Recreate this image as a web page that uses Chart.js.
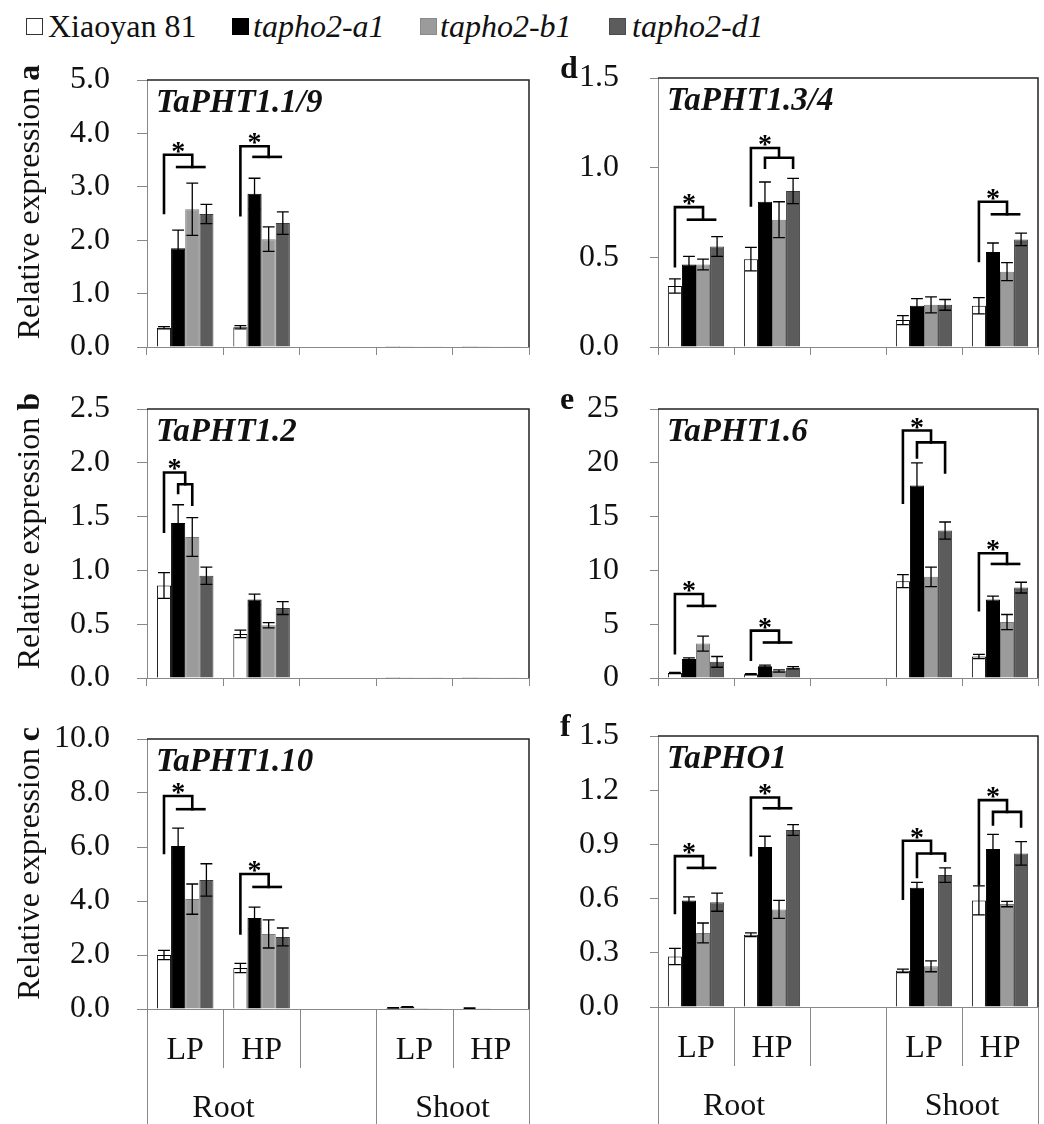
<!DOCTYPE html>
<html>
<head>
<meta charset="utf-8">
<script src="https://cdn.jsdelivr.net/npm/chart.js@4.4.1/dist/chart.umd.min.js"></script>
<style>
  body { margin: 0; background: #fff; width: 1044px; height: 1124px; position: relative; overflow: hidden; font-family: "Liberation Serif", "Times New Roman", Tinos, serif; }
  canvas { position: absolute; }
  .sq { position: absolute; top: 18px; width: 15px; height: 15px; border: 1px solid #333; }
  .lt { position: absolute; top: 10px; font-size: 32px; line-height: 32px; color: #111; white-space: nowrap; }
  .lt i { font-style: italic; }
</style>
</head>
<body>
<div class="sq" style="left:26px;background:#fff"></div>
<div class="lt" style="left:48px">Xiaoyan 81</div>
<div class="sq" style="left:232px;background:#000;border-color:#000"></div>
<div class="lt" style="left:253px"><i>tapho2-a1</i></div>
<div class="sq" style="left:420px;background:#9b9b9b;border-color:#8a8a8a"></div>
<div class="lt" style="left:440px"><i>tapho2-b1</i></div>
<div class="sq" style="left:609px;background:#5c5c5c;border-color:#4a4a4a"></div>
<div class="lt" style="left:632px"><i>tapho2-d1</i></div>

<canvas id="pa" width="535" height="320" style="left:0;top:50px"></canvas>
<canvas id="pd" width="509" height="320" style="left:535px;top:50px"></canvas>
<canvas id="pb" width="535" height="320" style="left:0;top:380px"></canvas>
<canvas id="pe" width="509" height="320" style="left:535px;top:380px"></canvas>
<canvas id="pc" width="535" height="414" style="left:0;top:710px"></canvas>
<canvas id="pf" width="509" height="414" style="left:535px;top:710px"></canvas>

<script>
const categories = ["LP", "HP", "", "LP", "HP"];
const tissues = ["Root", "Shoot"];
const tissueCats = [[0, 1], [3, 4]];
const genotypes = ["Xiaoyan 81", "tapho2-a1", "tapho2-b1", "tapho2-d1"];

// rows: genotypes, columns: categories
// significance: [category, left leg bottom, bracket top, sub level, sub from, sub to, sub leg L, sub leg R]

// a  TaPHT1.1/9
const ticksA = ["0.0", "1.0", "2.0", "3.0", "4.0", "5.0"];
const meanA = [
  [0.36, 0.37, null, 0.02, 0.02],
  [1.85, 2.87, null, 0.003, 0.003],
  [2.58, 2.02, null, 0.003, 0.003],
  [2.49, 2.32, null, 0.003, 0.003]
];
const errA = [
  [0.02, 0.03, null, 0, 0],
  [0.34, 0.29, null, 0, 0],
  [0.49, 0.23, null, 0, 0],
  [0.18, 0.21, null, 0, 0]
];
const sigA = [
  [0, 2.51, 3.60, 3.37, 1, 3, null, null],
  [1, 2.47, 3.76, 3.56, 1, 3, null, null]
];

// b  TaPHT1.2
const ticksB = ["0.0", "0.5", "1.0", "1.5", "2.0", "2.5"];
const meanB = [
  [0.86, 0.41, null, 0.01, 0.01],
  [1.44, 0.73, null, 0.003, 0.003],
  [1.31, 0.49, null, 0.003, 0.003],
  [0.95, 0.65, null, 0.003, 0.003]
];
const errB = [
  [0.12, 0.035, null, 0, 0],
  [0.17, 0.05, null, 0, 0],
  [0.18, 0.025, null, 0, 0],
  [0.08, 0.06, null, 0, 0]
];
const sigB = [
  [0, 1.36, 1.91, 1.80, 1, 2, 1.72, 1.61]
];

// c  TaPHT1.10
const ticksC = ["0.0", "2.0", "4.0", "6.0", "8.0", "10.0"];
const meanC = [
  [2.0, 1.52, null, 0.04, 0.03],
  [6.04, 3.37, null, 0.08, 0.03],
  [4.07, 2.78, null, 0.04, 0.02],
  [4.78, 2.67, null, 0.03, 0.02]
];
const errC = [
  [0.17, 0.17, null, 0.01, 0.01],
  [0.66, 0.40, null, 0.01, 0],
  [0.56, 0.52, null, 0, 0],
  [0.60, 0.33, null, 0, 0]
];
const sigC = [
  [0, 5.78, 7.89, 7.40, 1, 3, null, null],
  [1, 2.80, 5.00, 4.52, 1, 3, null, null]
];

// d  TaPHT1.3/4
const ticksD = ["0.0", "0.5", "1.0", "1.5"];
const meanD = [
  [0.34, 0.49, null, 0.15, 0.23],
  [0.46, 0.81, null, 0.23, 0.53],
  [0.46, 0.71, null, 0.235, 0.42],
  [0.56, 0.87, null, 0.235, 0.60]
];
const errD = [
  [0.04, 0.065, null, 0.025, 0.045],
  [0.045, 0.11, null, 0.04, 0.05],
  [0.03, 0.10, null, 0.045, 0.05],
  [0.055, 0.07, null, 0.03, 0.035]
];
const sigD = [
  [0, 0.45, 0.78, 0.71, 1, 3, null, null],
  [1, 0.79, 1.11, 1.055, 1, 3, 1.0, 1.0],
  [4, 0.48, 0.81, 0.74, 1, 3, null, null]
];

// e  TaPHT1.6
const ticksE = ["0", "5", "10", "15", "20", "25"];
const meanE = [
  [0.46, 0.35, null, 9.0, 2.0],
  [1.77, 1.1, null, 17.9, 7.3],
  [3.2, 0.65, null, 9.4, 5.2],
  [1.5, 0.95, null, 13.7, 8.4]
];
const errE = [
  [0.05, 0.05, null, 0.6, 0.2],
  [0.1, 0.1, null, 2.1, 0.3],
  [0.7, 0.1, null, 0.9, 0.7],
  [0.5, 0.1, null, 0.8, 0.5]
];
const sigE = [
  [0, 2.3, 7.8, 6.7, 1, 3, null, null],
  [1, 1.7, 4.4, 3.3, 1, 3, null, null],
  [3, 16.3, 23.0, 21.9, 1, 3, 20.5, 19.1],
  [4, 6.3, 11.6, 10.6, 1, 3, null, null]
];

// f  TaPHO1
const ticksF = ["0.0", "0.3", "0.6", "0.9", "1.2", "1.5"];
const meanF = [
  [0.28, 0.40, null, 0.20, 0.59],
  [0.59, 0.885, null, 0.66, 0.875],
  [0.41, 0.54, null, 0.225, 0.57],
  [0.58, 0.98, null, 0.73, 0.85]
];
const errF = [
  [0.045, 0.01, null, 0.01, 0.08],
  [0.02, 0.06, null, 0.03, 0.08],
  [0.055, 0.05, null, 0.03, 0.015],
  [0.05, 0.03, null, 0.04, 0.065]
];
const sigF = [
  [0, 0.52, 0.835, 0.77, 1, 3, null, null],
  [1, 0.84, 1.16, 1.10, 1, 3, null, null],
  [3, 0.60, 0.92, 0.85, 1, 3, 0.72, 0.81],
  [4, 0.68, 1.145, 1.08, 1, 3, 1.01, 1.0]
];

const fills = ["#ffffff", "#000000", "#9b9b9b", "#5c5c5c"];
const edges = ["#000000", "#000000", "#7d7d7d", "#3c3c3c"];
const FONT = '"Liberation Serif", "Times New Roman", Tinos, serif';

const panels = [
  { id: "pa", letter: "a", gene: "TaPHT1.1/9", ticks: ticksA, mean: meanA, err: errA, sig: sigA, left: true, padTop: 30, xH: 23, bottom: false },
  { id: "pb", letter: "b", gene: "TaPHT1.2", ticks: ticksB, mean: meanB, err: errB, sig: sigB, left: true, padTop: 29, xH: 22, bottom: false },
  { id: "pc", letter: "c", gene: "TaPHT1.10", ticks: ticksC, mean: meanC, err: errC, sig: sigC, left: true, padTop: 29, xH: 115, bottom: true },
  { id: "pd", letter: "d", gene: "TaPHT1.3/4", ticks: ticksD, mean: meanD, err: errD, sig: sigD, left: false, padTop: 28, xH: 23, bottom: false },
  { id: "pe", letter: "e", gene: "TaPHT1.6", ticks: ticksE, mean: meanE, err: errE, sig: sigE, left: false, padTop: 29, xH: 22, bottom: false },
  { id: "pf", letter: "f", gene: "TaPHO1", ticks: ticksF, mean: meanF, err: errF, sig: sigF, left: false, padTop: 26, xH: 117, bottom: true }
];

function barX(chart, ds, cat) {
  return chart.getDatasetMeta(ds).data[cat].x;
}

function makePanel(p) {
  const tickVals = p.ticks.map(Number);

  const extras = {
    id: "extras" + p.id,
    afterDatasetsDraw(chart) {
      const { ctx, chartArea: area, scales: { y } } = chart;
      ctx.save();

      // error bars
      ctx.strokeStyle = "#000";
      ctx.lineWidth = 1.3;
      p.err.forEach((row, i) => {
        chart.getDatasetMeta(i).data.forEach((bar, j) => {
          const m = p.mean[i][j], e = row[j];
          if (m == null || !e) return;
          const yt = y.getPixelForValue(m + e);
          const yb = y.getPixelForValue(Math.max(0, m - e));
          const hw = bar.width * 0.42;
          ctx.beginPath();
          ctx.moveTo(bar.x, yt); ctx.lineTo(bar.x, yb);
          ctx.moveTo(bar.x - hw, yt); ctx.lineTo(bar.x + hw, yt);
          ctx.moveTo(bar.x - hw, yb); ctx.lineTo(bar.x + hw, yb);
          ctx.stroke();
        });
      });

      // significance brackets
      ctx.lineWidth = 2.6;
      ctx.lineCap = "square";
      ctx.font = "bold 28px " + FONT;
      ctx.fillStyle = "#000";
      ctx.textAlign = "center";
      p.sig.forEach(s => {
        const [cat, legB, top, sub, i0, i1, legL, legR] = s;
        const xw = barX(chart, 0, cat);
        const x0 = barX(chart, i0, cat), x1 = barX(chart, i1, cat);
        const xm = (x0 + x1) / 2;
        const yTop = y.getPixelForValue(top), ySub = y.getPixelForValue(sub);
        ctx.beginPath();
        ctx.moveTo(xw, y.getPixelForValue(legB));
        ctx.lineTo(xw, yTop);
        ctx.lineTo(xm, yTop);
        ctx.lineTo(xm, ySub);
        ctx.stroke();
        ctx.beginPath();
        if (legL == null) {
          ctx.moveTo(x0 - 1, ySub); ctx.lineTo(x1 - 2, ySub);
        } else {
          ctx.moveTo(x0, y.getPixelForValue(legL));
          ctx.lineTo(x0, ySub);
          ctx.lineTo(x1, ySub);
          ctx.lineTo(x1, y.getPixelForValue(legR));
        }
        ctx.stroke();
        const mt = ctx.measureText("*");
        ctx.fillText("*", (xw + xm) / 2, yTop - 2 - mt.actualBoundingBoxDescent);
      });

      // frame top and right
      ctx.strokeStyle = "#222";
      ctx.lineWidth = 1.5;
      ctx.lineCap = "butt";
      ctx.beginPath();
      ctx.moveTo(area.left, area.top);
      ctx.lineTo(area.right, area.top);
      ctx.lineTo(area.right, area.bottom);
      ctx.stroke();

      // gene name
      ctx.font = "italic bold 33px " + FONT;
      ctx.textAlign = "left";
      ctx.textBaseline = "alphabetic";
      ctx.fillStyle = "#111";
      ctx.fillText(p.gene, area.left + 9, area.top + 32);

      // axis title and panel letter
      if (p.left) {
        ctx.save();
        ctx.translate(39, (area.top + area.bottom) / 2);
        ctx.rotate(-Math.PI / 2);
        ctx.font = "32px " + FONT;
        ctx.textAlign = "center";
        ctx.fillText("Relative expression", 0, 0);
        const w = ctx.measureText("Relative expression").width;
        ctx.font = "bold 32px " + FONT;
        ctx.textAlign = "left";
        ctx.fillText(p.letter, w / 2 + 7, 0);
        ctx.restore();
      } else {
        ctx.font = "bold 32px " + FONT;
        ctx.fillText(p.letter, area.left - 98, area.top);
      }

      // multi-level category axis under the bottom row
      if (p.bottom) {
        const x = chart.scales.x;
        const slot = x.getPixelForValue(1) - x.getPixelForValue(0);
        const edge = k => x.getPixelForValue(0) + (k - 0.5) * slot;
        const longLines = [0, 3, 5];
        ctx.strokeStyle = "#888";
        ctx.lineWidth = 1;
        for (let k = 0; k <= categories.length; k++) {
          const xx = Math.round(edge(k)) + 0.5;
          ctx.beginPath();
          ctx.moveTo(xx, area.bottom);
          ctx.lineTo(xx, longLines.includes(k) ? chart.height : area.bottom + 59);
          ctx.stroke();
        }
        ctx.font = "32px " + FONT;
        ctx.textAlign = "center";
        ctx.fillStyle = "#111";
        categories.forEach((c, k) => {
          if (c) ctx.fillText(c, x.getPixelForValue(k), area.bottom + 50);
        });
        tissues.forEach((t, k) => {
          const [a, b] = tissueCats[k];
          ctx.fillText(t, (x.getPixelForValue(a) + x.getPixelForValue(b)) / 2, area.bottom + 108);
        });
      }
      ctx.restore();
    }
  };

  return new Chart(document.getElementById(p.id), {
    type: "bar",
    data: {
      labels: categories,
      datasets: genotypes.map((g, i) => ({
        label: g,
        data: p.mean[i],
        backgroundColor: fills[i],
        borderColor: edges[i],
        borderWidth: 1,
        categoryPercentage: 0.74,
        barPercentage: 1
      }))
    },
    options: {
      responsive: false,
      animation: false,
      devicePixelRatio: 1,
      layout: { padding: { top: p.padTop, right: 6, left: 0, bottom: 0 } },
      plugins: { legend: { display: false }, tooltip: { enabled: false } },
      scales: {
        x: {
          type: "category",
          offset: true,
          grid: { offset: true, drawOnChartArea: false, drawTicks: !p.bottom, tickLength: 8, color: "#888" },
          border: { color: "#888", width: 1 },
          ticks: { display: false },
          afterFit: s => { s.height = p.xH; s.paddingLeft = 0; s.paddingRight = 0; }
        },
        y: {
          min: tickVals[0],
          max: tickVals[tickVals.length - 1],
          afterBuildTicks: s => { s.ticks = tickVals.map(v => ({ value: v })); },
          grid: { drawOnChartArea: false, tickLength: p.left ? 10 : 8, color: "#888" },
          border: { color: "#888", width: 1 },
          ticks: {
            padding: p.left ? 27 : 31,
            color: "#111",
            font: { family: FONT, size: 32 },
            callback: (v, i) => p.ticks[i]
          },
          afterFit: s => { s.width = p.left ? 147 : 123; s.paddingTop = 0; s.paddingBottom = 0; }
        }
      }
    },
    plugins: [extras]
  });
}

panels.forEach(makePanel);
</script>
</body>
</html>
